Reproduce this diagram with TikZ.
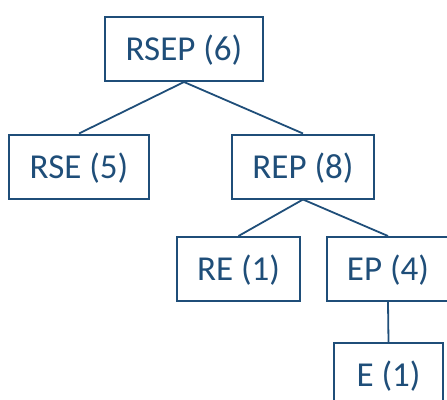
\documentclass[tikz,border=0pt]{standalone}
\usepackage{fontspec}
\setmainfont{Carlito}
\usepackage{tikz}
\definecolor{treeblue}{RGB}{31,78,121}

\begin{document}
\begin{tikzpicture}[x=1pt,y=-1pt]
      %box and edge styles
      \tikzset{
      cnt/.style={draw=treeblue, line width=2pt, text=treeblue, inner sep=0pt,
        minimum height=64pt, text height=23pt, text depth=0pt,
        font=\fontsize{35}{40}\selectfont},
      edge/.style={draw=treeblue, line width=1.8pt},
      }
      \clip (0,0) rectangle (447,399);

      %Level 1 - root
      \node[cnt, minimum width=158pt] (rsep) at (184, 49) {RSEP (6)};

      %Level 2
      \node[cnt, minimum width=140pt] (rse) at (79, 166.5) {RSE (5)};
      \node[cnt, minimum width=142pt] (rep) at (303, 166.5) {REP (8)};

      %Level 3
      \node[cnt, minimum width=123pt] (re) at (238.5, 269) {RE (1)};
      \node[cnt, minimum width=122pt] (ep) at (388, 269) {EP (4)};

      %Level 4
      \node[cnt, minimum width=109pt] (e) at (388.5, 375) {E (1)};

      %edges
      \draw[edge] (rsep.south) -- (rse.north);
      \draw[edge] (rsep.south) -- (rep.north);
      \draw[edge] (rep.south) -- (re.north);
      \draw[edge] (rep.south) -- (ep.north);
      \draw[edge] (ep.south) -- (e.north);
\end{tikzpicture}
\end{document}
